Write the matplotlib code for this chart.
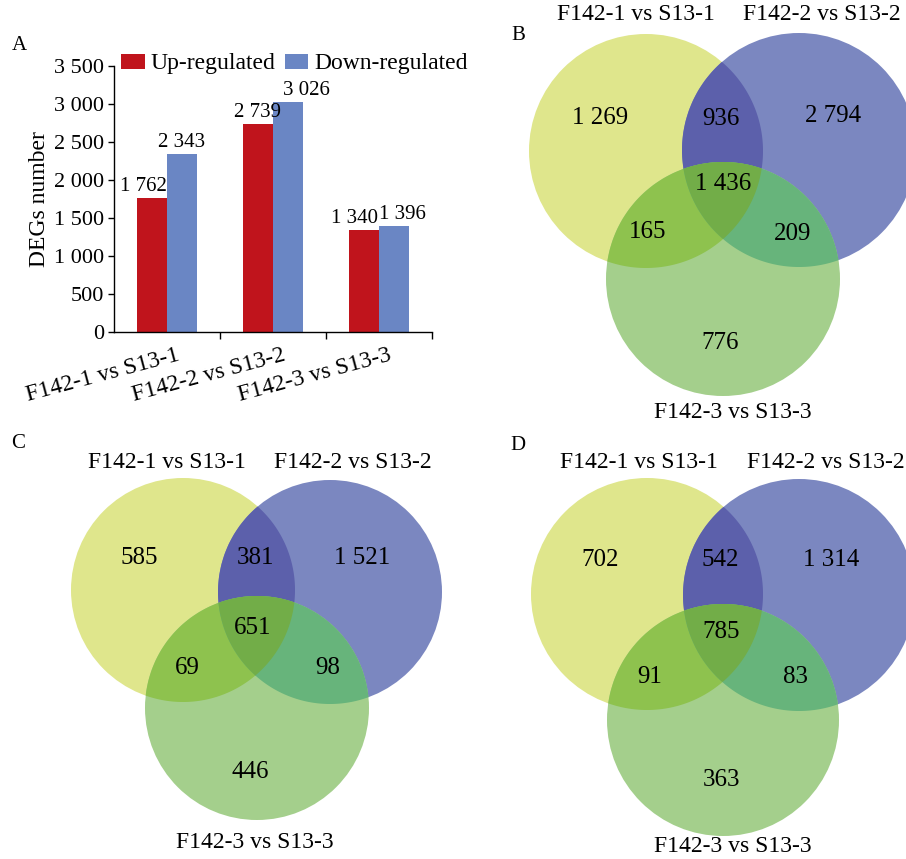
import numpy as np
import matplotlib
matplotlib.use('Agg')
import matplotlib.pyplot as plt
from matplotlib.patches import Circle, Polygon, Patch
from matplotlib.transforms import ScaledTranslation

plt.rcParams['font.family'] = ['Liberation Serif', 'DejaVu Serif']

# ---------------- data ----------------
comparisons = ['F142-1 vs S13-1', 'F142-2 vs S13-2', 'F142-3 vs S13-3']
up_regulated = [1762, 2739, 1340]
down_regulated = [2343, 3026, 1396]
series_names = ['Up-regulated', 'Down-regulated']
ytick_values = [0, 500, 1000, 1500, 2000, 2500, 3000, 3500]
ytick_labels = ['0', '500', '1 000', '1 500', '2 000', '2 500', '3 000', '3 500']
y_label = 'DEGs number'

# Venn regions: only1, only2, only3, 1&2, 1&3, 2&3, 1&2&3
venn_regions = ['100', '010', '001', '110', '101', '011', '111']
venn_all = [1269, 2794, 776, 936, 165, 209, 1436]
venn_up = [585, 1521, 446, 381, 69, 98, 651]
venn_down = [702, 1314, 363, 542, 91, 83, 785]


def fmt(v):
    return f"{v:,}".replace(',', ' ')


# ---------------- figure ----------------
W, H = 906, 859
fig = plt.figure(figsize=(W / 100, H / 100), dpi=100)
fig.patch.set_facecolor('white')

ov = fig.add_axes([0, 0, 1, 1])
ov.set_xlim(0, W)
ov.set_ylim(H, 0)
ov.axis('off')

col = {'100': '#dfe68c', '010': '#7b87c0', '001': '#a4cf8c',
       '110': '#5c60ab', '101': '#8ec24e', '011': '#67b47b', '111': '#72ad48'}


def inter_poly(cs, rs):
    pts = []
    th = np.linspace(0, 2 * np.pi, 1440, endpoint=False)
    for i, (c, r) in enumerate(zip(cs, rs)):
        p = np.c_[c[0] + r * np.cos(th), c[1] + r * np.sin(th)]
        m = np.ones(len(p), bool)
        for j, (c2, r2) in enumerate(zip(cs, rs)):
            if j != i:
                m &= np.hypot(p[:, 0] - c2[0], p[:, 1] - c2[1]) <= r2 + 1e-9
        pts.append(p[m])
    pts = np.vstack(pts)
    ctr = pts.mean(axis=0)
    order = np.argsort(np.arctan2(pts[:, 1] - ctr[1], pts[:, 0] - ctr[0]))
    return pts[order]


def draw_venn(centers, r, counts, num_pos, title_pos, letter, letter_pos):
    rs = [r, r, r]
    for k, key in enumerate(['100', '010', '001']):
        ov.add_patch(Circle(centers[k], r, facecolor=col[key], edgecolor='none', zorder=1))
    for key, idx in [('110', (0, 1)), ('101', (0, 2)), ('011', (1, 2))]:
        poly = inter_poly([centers[i] for i in idx], [rs[i] for i in idx])
        ov.add_patch(Polygon(poly, closed=True, facecolor=col[key], edgecolor='none', zorder=2))
    poly = inter_poly(centers, rs)
    ov.add_patch(Polygon(poly, closed=True, facecolor=col['111'], edgecolor='none', zorder=3))
    for reg, (x, y) in zip(venn_regions, num_pos):
        v = counts[venn_regions.index(reg)]
        ov.text(x, y, fmt(v), ha='center', va='center', fontsize=18, zorder=5)
    for name, (x, y) in zip(comparisons, title_pos):
        ov.text(x, y, name, ha='center', va='center', fontsize=17, zorder=5)
    ov.text(letter_pos[0], letter_pos[1], letter, ha='center', va='center', fontsize=15, zorder=5)


# Panel B
draw_venn([(646, 151), (799, 150), (723, 279)], 117, venn_all,
          [(600, 118), (833, 116), (720, 343), (721, 119), (648, 232), (793, 234), (723, 184)],
          [(636, 14), (822, 14), (733, 412)], 'B', (518, 36))
# Panel C
draw_venn([(183, 590), (330, 592), (257, 708)], 112, venn_up,
          [(139, 558), (362, 558), (250, 772), (255, 558), (187, 668), (328, 668), (253, 628)],
          [(167, 462), (353, 462), (255, 842)], 'C', (18, 444))
# Panel D
draw_venn([(647, 594), (799, 595), (723, 720)], 116, venn_down,
          [(600, 560), (831, 560), (721, 780), (720, 560), (650, 677), (795, 677), (721, 632)],
          [(639, 463), (826, 463), (733, 847)], 'D', (518, 445))

ov.text(19, 45, 'A', ha='center', va='center', fontsize=15)

# ---------------- Panel A bar chart ----------------
ax = fig.add_axes([114 / W, 1 - 332 / H, 318 / W, 266 / H])
x = np.arange(len(comparisons))
bw = 0.28
red, blue = '#c0141c', '#6a86c4'
ax.bar(x - bw / 2, up_regulated, bw, color=red, label=series_names[0])
ax.bar(x + bw / 2, down_regulated, bw, color=blue, label=series_names[1])

ax.set_xlim(-0.5, 2.5)
ax.set_ylim(0, 3500)
ax.set_yticks(ytick_values)
ax.set_yticklabels(ytick_labels, fontsize=16)
ax.set_ylabel(y_label, fontsize=17, labelpad=3)
ax.spines['top'].set_visible(False)
ax.spines['right'].set_visible(False)
for s in ['left', 'bottom']:
    ax.spines[s].set_linewidth(1.0)
ax.tick_params(axis='y', direction='out', length=4, width=1.0, pad=3)
ax.set_xticks(x)
ax.set_xticklabels(comparisons, fontsize=17)
ax.tick_params(axis='x', which='major', length=0, pad=9)
ax.set_xticks([0.5, 1.5, 2.5], minor=True)
ax.tick_params(axis='x', which='minor', direction='out', length=5, width=1.0)
shift = ScaledTranslation(9 / 100, 0, fig.dpi_scale_trans)
for lab in ax.get_xticklabels():
    lab.set_rotation(15)
    lab.set_ha('right')
    lab.set_va('top')
    lab.set_rotation_mode('anchor')
    lab.set_transform(lab.get_transform() + shift)

up_dx = [-6.5, -0.7, -7.2]
down_dx = [0, 13.7, 6.5]
for i in range(len(comparisons)):
    ax.annotate(fmt(up_regulated[i]), xy=(x[i] - bw / 2, up_regulated[i]), xytext=(up_dx[i], 1.5),
                textcoords='offset points', ha='center', va='bottom', fontsize=15)
    ax.annotate(fmt(down_regulated[i]), xy=(x[i] + bw / 2, down_regulated[i]), xytext=(down_dx[i], 1.5),
                textcoords='offset points', ha='center', va='bottom', fontsize=15)

handles = [Patch(facecolor=red, edgecolor='none'), Patch(facecolor=blue, edgecolor='none')]
fig.legend(handles, series_names, loc='center left', bbox_to_anchor=(121 / W, 1 - 64 / H),
           ncol=2, frameon=False, fontsize=17, handlelength=1.0, handleheight=0.6,
           handletextpad=0.25, columnspacing=0.4, borderpad=0, borderaxespad=0)

fig.savefig('out.png', dpi=100, facecolor='white')
